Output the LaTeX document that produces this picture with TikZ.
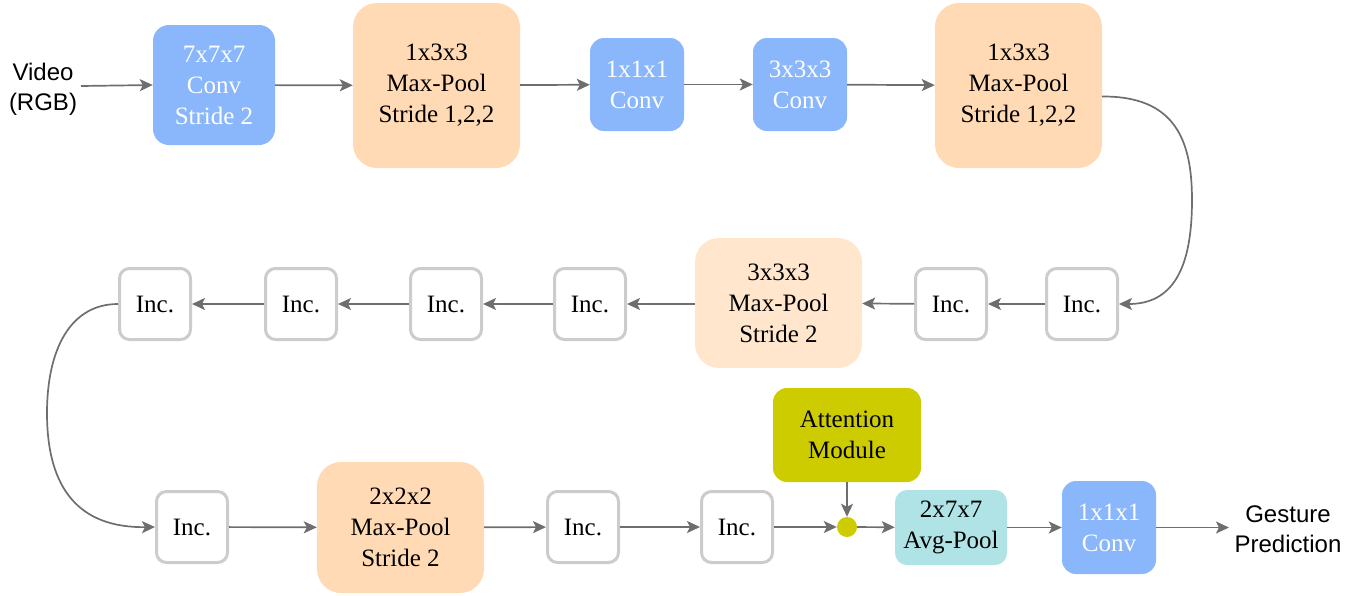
\documentclass[tikz,border=0pt]{standalone}
\usepackage{fontspec}
\setmainfont{Liberation Serif}
\newfontfamily\arialfont{Liberation Sans}
\usetikzlibrary{arrows.meta}
\definecolor{convblue}{HTML}{8AB6FC}
\definecolor{poolpeach}{HTML}{FFDAB4}
\definecolor{poollight}{HTML}{FFE6CC}
\definecolor{avgcyan}{HTML}{B0E3E6}
\definecolor{attolive}{HTML}{CCCC00}
\definecolor{incgray}{HTML}{CCCCCC}
\definecolor{arrowgray}{HTML}{6E6E6E}
\tikzset{
  x=1pt, y=-1pt,
  every node/.style={inner sep=0pt, align=center, font=\fontsize{25}{31}\selectfont},
  convbox/.style={fill=convblue, text=white, rounded corners=14pt},
  poolbox/.style={fill=poolpeach, rounded corners=24pt, minimum width=167pt},
  incbox/.style={draw=incgray, line width=3pt, fill=white, rounded corners=10pt, minimum width=71pt, minimum height=71pt},
  conn/.style={draw=arrowgray, line width=1.7pt, -{Stealth[length=13pt,width=12pt,inset=3pt]}},
  sanslabel/.style={font=\arialfont\fontsize{24}{30}\selectfont},
}
\begin{document}
\begin{tikzpicture}
\useasboundingbox (0,0) rectangle (1369,595);
% row 1
\node[sanslabel] (video) at (43,89) {Video\\(RGB)};
\coordinate (vstart) at (81,86);
\node[convbox, minimum width=122pt, minimum height=120pt, rounded corners=16pt] (b1) at (214,85) {7x7x7\\Conv\\Stride 2};
\node[poolbox, minimum height=165pt] (b2) at (436.5,85.5) {1x3x3\\Max-Pool\\Stride 1,2,2};
\node[convbox, minimum width=94pt, minimum height=93pt] (b3) at (637,84.5) {1x1x1\\Conv};
\node[convbox, minimum width=94pt, minimum height=93pt] (b4) at (800,84.5) {3x3x3\\Conv};
\node[poolbox, minimum height=165pt] (b5) at (1018.5,85.5) {1x3x3\\Max-Pool\\Stride 1,2,2};
% row 2
\node[incbox] (i6) at (1082,304) {Inc.};
\node[incbox] (i5) at (951,304) {Inc.};
\node[poolbox, fill=poollight, minimum height=130pt] (mp2) at (778.5,303) {3x3x3\\Max-Pool\\Stride 2};
\node[incbox] (i4) at (590,304) {Inc.};
\node[incbox] (i3) at (446,304) {Inc.};
\node[incbox] (i2) at (301,304) {Inc.};
\node[incbox] (i1) at (155,304) {Inc.};
% row 3
\node[incbox] (i7) at (192,527) {Inc.};
\node[poolbox, minimum height=131pt] (mp3) at (400.5,527.5) {2x2x2\\Max-Pool\\Stride 2};
\node[incbox] (i8) at (583,527) {Inc.};
\node[incbox] (i9) at (737,527) {Inc.};
\node[circle, fill=attolive, minimum size=20pt] (dot) at (847,527) {};
\node[fill=attolive, rounded corners=14pt, minimum width=148pt, minimum height=94pt] (att) at (847,435) {Attention\\Module};
\node[fill=avgcyan, rounded corners=12pt, minimum width=112pt, minimum height=75pt] (avg) at (951,527.5) {2x7x7\\Avg-Pool};
\node[convbox, minimum width=94pt, minimum height=93pt] (b10) at (1109,527.5) {1x1x1\\Conv};
\node[sanslabel] (out) at (1288,529) {Gesture\\Prediction};
\coordinate (outin) at (1229,527.5);
% connectors
\draw[conn] (vstart) -- (b1.west);
\draw[conn] (b1) -- (b2);
\draw[conn] (b2) -- (b3);
\draw[conn] (b3) -- (b4);
\draw[conn] (b4) -- (b5);
\draw[conn] ([yshift=-11pt]b5.east) .. controls (1175,96) and (1192,140) .. (1192,200) .. controls (1192,270) and (1172,304) .. (i6.east);
\draw[conn] (i6) -- (i5);
\draw[conn] (i5) -- (mp2);
\draw[conn] (mp2.west |- i4) -- (i4);
\draw[conn] (i4) -- (i3);
\draw[conn] (i3) -- (i2);
\draw[conn] (i2) -- (i1);
\draw[conn] (i1.west) .. controls (70,304) and (47,350) .. (47,413) .. controls (47,490) and (80,528) .. (i7.west);
\draw[conn] (i7) -- (mp3);
\draw[conn] (mp3) -- (i8);
\draw[conn] (i8) -- (i9);
\draw[conn] (i9) -- (dot);
\draw[conn] (att) -- (dot);
\draw[conn] (dot) -- (avg);
\draw[conn] (avg) -- (b10);
\draw[conn] (b10) -- (outin);
\end{tikzpicture}
\end{document}
